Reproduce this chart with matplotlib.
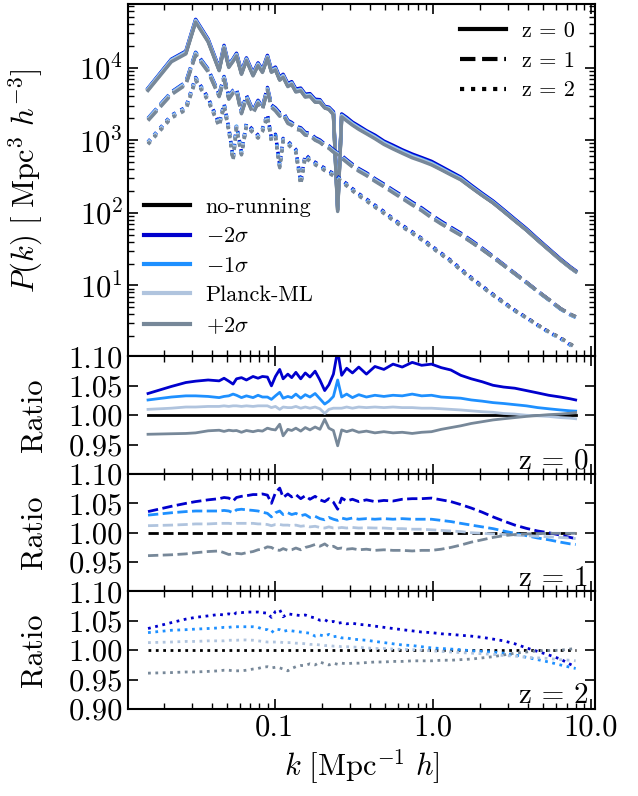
import numpy as np
import matplotlib
matplotlib.use('Agg')
import matplotlib.pyplot as plt
from matplotlib.lines import Line2D
from matplotlib.ticker import FixedLocator, FixedFormatter, FormatStrFormatter, NullFormatter

############################################################
# Datos
############################################################

k = [0.0158, 0.0222, 0.0274, 0.0316, 0.0379, 0.0445, 0.0478, 0.0512, 0.0545, 0.0573,
     0.0616, 0.0662, 0.0729, 0.0784, 0.0836, 0.0899, 0.0953, 0.1010, 0.1075, 0.1130,
     0.1210, 0.1280, 0.1360, 0.1460, 0.1560, 0.1670, 0.1800, 0.1930, 0.2070, 0.2200,
     0.2350, 0.2500, 0.2650, 0.2850, 0.3100, 0.3400, 0.3800, 0.4300, 0.4900, 0.5600,
     0.6400, 0.7400, 0.8500, 0.9800, 1.13, 1.30, 1.50, 1.75, 2.05, 2.40,
     2.80, 3.30, 3.90, 4.60, 5.40, 6.40, 7.40, 8.00]

# P(k) sin running para z = 0, 1, 2
pk_z0 = [5000, 12400, 15900, 43500, 23200, 9300, 19000, 10300, 12500, 14800,
         8300, 12800, 7900, 10900, 8800, 13800, 8800, 9500, 6800, 7600,
         5600, 6000, 4700, 4900, 4000, 4100, 3400, 3400, 2800, 2700,
         2300, 110, 2150, 1900, 1650, 1450, 1260, 1080, 900, 780,
         680, 590, 530, 470, 400, 340, 290, 225, 175, 138,
         105, 78, 58, 42, 31, 22.5, 17.5, 15.5]

pk_z1 = [1930, 4400, 6000, 15400, 9000, 4100, 7100, 3800, 4600, 4850,
         2400, 3900, 2400, 3320, 2700, 5000, 2900, 2600, 2200, 2300,
         1750, 1650, 1450, 1400, 1200, 1180, 1020, 950, 840, 790,
         700, 640, 580, 510, 440, 385, 335, 280, 235, 195,
         162, 132, 110, 88, 72, 60, 50, 40, 31.5, 24.5,
         19, 14.5, 11, 8.3, 6.4, 4.8, 4.0, 3.7]

pk_z2 = [910, 2100, 2700, 6900, 3600, 1600, 3000, 1400, 540, 1500,
         650, 1600, 1300, 1100, 1350, 2150, 1000, 1130, 430, 1000,
         910, 800, 700, 250, 600, 520, 470, 430, 390, 360,
         330, 300, 270, 240, 205, 175, 148, 122, 100, 80,
         65, 53, 43, 34, 27, 21.5, 16.5, 12.5, 9.6, 7.4,
         5.8, 4.5, 3.6, 2.85, 2.3, 1.9, 1.55, 1.4]

# Cocientes respecto a no-running, z = 0
r_m2_z0 = [1.037, 1.049, 1.0557, 1.058, 1.060, 1.0585, 1.063, 1.058, 1.053, 1.062,
           1.064, 1.060, 1.066, 1.063, 1.066, 1.065, 1.050, 1.066, 1.078, 1.062,
           1.070, 1.064, 1.073, 1.062, 1.072, 1.065, 1.075, 1.060, 1.042, 1.052,
           1.070, 1.110, 1.068, 1.080, 1.072, 1.082, 1.070, 1.083, 1.078, 1.087,
           1.082, 1.090, 1.085, 1.087, 1.081, 1.077, 1.068, 1.062, 1.057, 1.051,
           1.048, 1.046, 1.042, 1.038, 1.034, 1.031, 1.028, 1.026]
r_m1_z0 = [1.026, 1.031, 1.033, 1.033, 1.032, 1.030, 1.032, 1.033, 1.036, 1.034,
           1.030, 1.033, 1.030, 1.034, 1.031, 1.031, 1.027, 1.033, 1.039, 1.029,
           1.032, 1.030, 1.036, 1.029, 1.035, 1.031, 1.037, 1.028, 1.019, 1.024,
           1.032, 1.060, 1.031, 1.036, 1.030, 1.035, 1.031, 1.034, 1.032, 1.034,
           1.033, 1.036, 1.033, 1.034, 1.031, 1.030, 1.029, 1.026, 1.024, 1.0215,
           1.020, 1.018, 1.016, 1.013, 1.011, 1.009, 1.0075, 1.007]
r_pl_z0 = [1.010, 1.012, 1.014, 1.014, 1.015, 1.015, 1.016, 1.015, 1.016, 1.016,
           1.015, 1.016, 1.015, 1.016, 1.016, 1.016, 1.013, 1.015, 1.010, 1.014,
           1.013, 1.013, 1.015, 1.012, 1.014, 1.012, 1.014, 1.011, 1.003, 1.010,
           1.012, 1.012, 1.012, 1.014, 1.012, 1.014, 1.013, 1.014, 1.013, 1.014,
           1.013, 1.013, 1.012, 1.012, 1.011, 1.010, 1.009, 1.0075, 1.006, 1.005,
           1.003, 1.002, 1.000, 0.999, 0.998, 0.996, 0.995, 0.994]
r_p2_z0 = [0.9676, 0.9685, 0.969, 0.970, 0.9735, 0.9745, 0.9725, 0.9745, 0.9735, 0.974,
           0.971, 0.974, 0.972, 0.974, 0.973, 0.978, 0.976, 0.975, 0.9847, 0.965,
           0.976, 0.974, 0.978, 0.973, 0.979, 0.975, 0.980, 0.976, 0.993, 0.978,
           0.974, 0.948, 0.975, 0.972, 0.975, 0.971, 0.973, 0.970, 0.972, 0.970,
           0.971, 0.969, 0.971, 0.972, 0.976, 0.979, 0.982, 0.986, 0.989, 0.992,
           0.994, 0.996, 0.998, 0.9995, 1.001, 1.002, 1.0035, 1.0045]

# Cocientes, z = 1
r_m2_z1 = [1.036, 1.045, 1.050, 1.053, 1.056, 1.058, 1.060, 1.059, 1.054, 1.060,
           1.062, 1.063, 1.065, 1.065, 1.066, 1.064, 1.050, 1.068, 1.076, 1.060,
           1.066, 1.061, 1.065, 1.058, 1.063, 1.057, 1.062, 1.056, 1.053, 1.058,
           1.052, 1.040, 1.059, 1.054, 1.057, 1.053, 1.056, 1.053, 1.055, 1.054,
           1.057, 1.058, 1.058, 1.059, 1.056, 1.053, 1.048, 1.042, 1.035, 1.027,
           1.020, 1.013, 1.0075, 1.003, 1.000, 0.996, 0.992, 0.990]
r_m1_z1 = [1.030, 1.034, 1.036, 1.037, 1.037, 1.037, 1.038, 1.037, 1.034, 1.039,
           1.040, 1.039, 1.038, 1.037, 1.035, 1.033, 1.027, 1.034, 1.037, 1.031,
           1.034, 1.031, 1.033, 1.029, 1.031, 1.026, 1.028, 1.024, 1.022, 1.026,
           1.023, 1.021, 1.025, 1.023, 1.025, 1.023, 1.024, 1.023, 1.024, 1.023,
           1.024, 1.023, 1.023, 1.023, 1.021, 1.019, 1.016, 1.013, 1.010, 1.007,
           1.003, 0.999, 0.995, 0.991, 0.988, 0.984, 0.981, 0.980]
r_pl_z1 = [1.012, 1.013, 1.014, 1.015, 1.015, 1.016, 1.016, 1.016, 1.015, 1.016,
           1.016, 1.016, 1.016, 1.015, 1.015, 1.014, 1.012, 1.014, 1.014, 1.013,
           1.013, 1.012, 1.013, 1.011, 1.012, 1.010, 1.011, 1.009, 1.008, 1.010,
           1.008, 1.008, 1.009, 1.008, 1.009, 1.008, 1.0085, 1.008, 1.008, 1.007,
           1.007, 1.006, 1.006, 1.005, 1.004, 1.003, 1.002, 1.000, 0.999, 0.998,
           0.997, 0.996, 0.995, 0.994, 0.993, 0.992, 0.991, 0.990]
r_p2_z1 = [0.961, 0.9625, 0.964, 0.966, 0.968, 0.969, 0.966, 0.963, 0.964, 0.965,
           0.964, 0.966, 0.968, 0.971, 0.972, 0.976, 0.975, 0.971, 0.970, 0.973,
           0.970, 0.971, 0.974, 0.971, 0.975, 0.977, 0.980, 0.977, 0.981, 0.976,
           0.977, 0.973, 0.974, 0.972, 0.973, 0.971, 0.972, 0.970, 0.971, 0.970,
           0.970, 0.969, 0.970, 0.970, 0.972, 0.975, 0.979, 0.984, 0.988, 0.992,
           0.995, 0.997, 0.998, 0.9985, 0.999, 0.999, 0.999, 0.999]

# Cocientes, z = 2
r_m2_z2 = [1.037, 1.047, 1.053, 1.056, 1.0585, 1.061, 1.060, 1.062, 1.060, 1.064,
           1.064, 1.065, 1.065, 1.065, 1.064, 1.063, 1.056, 1.066, 1.069, 1.057,
           1.062, 1.061, 1.060, 1.059, 1.060, 1.057, 1.055, 1.051, 1.052, 1.048,
           1.049, 1.046, 1.047, 1.045, 1.046, 1.044, 1.043, 1.041, 1.039, 1.037,
           1.035, 1.033, 1.031, 1.030, 1.028, 1.027, 1.0255, 1.024, 1.022, 1.019,
           1.016, 1.011, 1.004, 0.998, 0.992, 0.985, 0.976, 0.972]
r_m1_z2 = [1.030, 1.034, 1.035, 1.036, 1.037, 1.038, 1.039, 1.039, 1.040, 1.040,
           1.040, 1.040, 1.040, 1.039, 1.036, 1.035, 1.030, 1.036, 1.035, 1.032,
           1.034, 1.033, 1.032, 1.031, 1.030, 1.029, 1.024, 1.026, 1.024, 1.027,
           1.023, 1.024, 1.021, 1.021, 1.019, 1.018, 1.017, 1.015, 1.013, 1.011,
           1.009, 1.008, 1.006, 1.004, 1.003, 1.002, 1.001, 0.999, 0.998, 0.997,
           0.995, 0.992, 0.988, 0.984, 0.980, 0.975, 0.971, 0.969]
r_pl_z2 = [1.013, 1.014, 1.015, 1.015, 1.016, 1.016, 1.016, 1.017, 1.017, 1.017,
           1.0175, 1.0175, 1.017, 1.016, 1.015, 1.014, 1.014, 1.014, 1.014, 1.013,
           1.013, 1.013, 1.012, 1.012, 1.011, 1.010, 1.010, 1.009, 1.008, 1.008,
           1.007, 1.007, 1.006, 1.006, 1.0055, 1.005, 1.004, 1.003, 1.003, 1.002,
           1.0015, 1.001, 1.000, 0.999, 0.998, 0.997, 0.996, 0.995, 0.994, 0.993,
           0.991, 0.990, 0.988, 0.987, 0.986, 0.984, 0.983, 0.982]
r_p2_z2 = [0.961, 0.962, 0.963, 0.963, 0.964, 0.965, 0.966, 0.966, 0.965, 0.965,
           0.965, 0.966, 0.968, 0.969, 0.971, 0.972, 0.970, 0.971, 0.970, 0.968,
           0.965, 0.969, 0.972, 0.974, 0.974, 0.977, 0.975, 0.980, 0.977, 0.975,
           0.978, 0.976, 0.978, 0.977, 0.978, 0.978, 0.979, 0.980, 0.980, 0.981,
           0.981, 0.982, 0.982, 0.982, 0.983, 0.983, 0.984, 0.985, 0.987, 0.989,
           0.992, 0.995, 0.997, 0.999, 0.9995, 1.000, 1.002, 1.003]

modelos = ['no-running', r'$-2\sigma$', r'$-1\sigma$', 'Planck-ML', r'$+2\sigma$']
colores = ['black', '#0000CD', '#1E90FF', '#B0C4DE', '#778899']
estilos = ['-', '--', ':']
redshifts = ['z = 0', 'z = 1', 'z = 2']

pk = [pk_z0, pk_z1, pk_z2]
ratios = [
    [r_m2_z0, r_m1_z0, r_pl_z0, r_p2_z0],
    [r_m2_z1, r_m1_z1, r_pl_z1, r_p2_z1],
    [r_m2_z2, r_m1_z2, r_pl_z2, r_p2_z2],
]

############################################################
# Estilo
############################################################

plt.rcParams['font.family'] = 'serif'
plt.rcParams['font.serif'] = ['cmr10']
plt.rcParams['mathtext.fontset'] = 'cm'
plt.rcParams['axes.formatter.use_mathtext'] = True
plt.rcParams['axes.linewidth'] = 1.5
plt.rcParams['xtick.direction'] = 'in'
plt.rcParams['ytick.direction'] = 'in'
plt.rcParams['xtick.top'] = True
plt.rcParams['ytick.right'] = True
plt.rcParams['xtick.major.size'] = 7
plt.rcParams['ytick.major.size'] = 7
plt.rcParams['xtick.minor.size'] = 4
plt.rcParams['ytick.minor.size'] = 4
plt.rcParams['xtick.major.width'] = 1.2
plt.rcParams['ytick.major.width'] = 1.2
plt.rcParams['xtick.minor.width'] = 1.0
plt.rcParams['ytick.minor.width'] = 1.0
plt.rcParams['xtick.labelsize'] = 22
plt.rcParams['ytick.labelsize'] = 22

fig = plt.figure(figsize=(6.38, 7.96), dpi=100)
gs = fig.add_gridspec(4, 1, height_ratios=[3, 1, 1, 1], hspace=0,
                      left=0.2006, right=0.9326, top=0.995, bottom=0.1093)

ax = fig.add_subplot(gs[0])
axr = [fig.add_subplot(gs[i + 1], sharex=ax) for i in range(3)]

k = np.array(k)

############################################################
# Panel superior: P(k)
############################################################

for iz in range(3):
    p = np.array(pk[iz])
    ax.plot(k, p, color=colores[0], ls=estilos[iz], lw=2.5)
    for im in range(4):
        ax.plot(k, p * np.array(ratios[iz][im]), color=colores[im + 1],
                ls=estilos[iz], lw=2.5)

ax.set_xscale('log')
ax.set_yscale('log')
ax.set_xlim(0.0118, 10.6)
ax.set_ylim(1.05, 7.5e4)
ax.set_ylabel(r'$P(k)\ [\ \mathrm{Mpc}^3\ h^{-3}]$', fontsize=22)
ax.yaxis.set_label_coords(-0.178, 0.5)
ax.tick_params(labelbottom=False)

h1 = [Line2D([], [], color=c, lw=3) for c in colores]
leg1 = ax.legend(h1, modelos, loc='lower left', frameon=False, fontsize=16,
                 handlelength=2.1, handletextpad=0.7, labelspacing=0.44,
                 borderaxespad=0.3, bbox_to_anchor=(0.0, 0.015))
ax.add_artist(leg1)

h2 = [Line2D([], [], color='black', lw=3, ls=s) for s in estilos]
ax.legend(h2, redshifts, loc='upper right', frameon=False, fontsize=16,
          handlelength=2.1, handletextpad=0.7, labelspacing=0.46,
          borderaxespad=0.3, bbox_to_anchor=(0.99, 0.995))

############################################################
# Paneles de cociente
############################################################

for iz in range(3):
    a = axr[iz]
    a.plot(k, np.ones(len(k)), color='black', ls=estilos[iz], lw=2)
    for im in range(4):
        a.plot(k, ratios[iz][im], color=colores[im + 1], ls=estilos[iz], lw=2)
    a.set_ylim(0.9, 1.1)
    if iz < 2:
        a.yaxis.set_major_locator(FixedLocator([0.95, 1.00, 1.05, 1.10]))
        a.tick_params(labelbottom=False)
    else:
        a.yaxis.set_major_locator(FixedLocator([0.90, 0.95, 1.00, 1.05, 1.10]))
    a.yaxis.set_major_formatter(FormatStrFormatter('%.2f'))
    a.set_ylabel('Ratio', fontsize=22)
    a.yaxis.set_label_coords(-0.172, 0.5)
    a.text(0.987, 0.05, redshifts[iz], transform=a.transAxes,
           ha='right', va='baseline', fontsize=21)

axb = axr[2]
axb.xaxis.set_major_locator(FixedLocator([0.1, 1.0, 10.0]))
axb.xaxis.set_major_formatter(FixedFormatter(['0.1', '1.0', '10.0']))
axb.xaxis.set_minor_formatter(NullFormatter())
axb.set_xlim(0.0118, 10.6)
axb.set_xlabel(r'$k\ [\mathrm{Mpc}^{-1}\ h]$', fontsize=22)

fig.savefig('out.png', dpi=100)
